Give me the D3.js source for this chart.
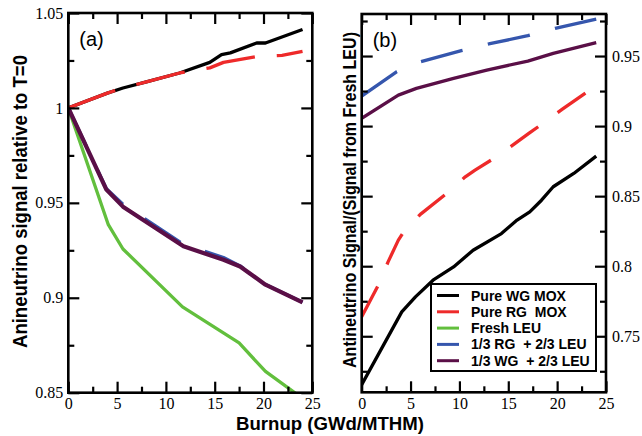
<!DOCTYPE html>
<html>
<head>
<meta charset="utf-8">
<script src="https://cdn.jsdelivr.net/npm/d3@7"></script>
<style>
  body { margin: 0; background: #fff; }
  svg text { white-space: pre; }
</style>
</head>
<body>
<svg id="chart" width="642" height="436"></svg>
<script>
// ---- data ----
var seriesNames = ["Pure WG MOX", "Pure RG  MOX", "Fresh LEU", "1/3 RG  + 2/3 LEU", "1/3 WG  + 2/3 LEU"];
var seriesColors = ["#000000", "#ee2a2a", "#62bf3d", "#3556ad", "#5a0f47"];

var xTicks = [0, 5, 10, 15, 20, 25];
var xMinor = [2.5, 7.5, 12.5, 17.5, 22.5];
var aTicks = [0.85, 0.9, 0.95, 1, 1.05];
var aMinor = [0.875, 0.925, 0.975, 1.025];
var bTicks = [0.75, 0.8, 0.85, 0.9, 0.95];
var bMinor = [0.725, 0.775, 0.825, 0.875, 0.925, 0.975];

// (a) signal relative to T=0
var aWgBurnup = [0, 4, 5.6, 8, 11.4, 14.5, 15.7, 16.6, 19.3, 20.2, 24];
var aWgSignal = [1, 1.0078, 1.0105, 1.0137, 1.0184, 1.024, 1.0281, 1.029, 1.0342, 1.0342, 1.0413];
var aRgBurnup = [0, 4, 5.6, 8, 11.4, 14.5, 15.9, 19.5, 21.9, 24];
var aRgSignal = [1, 1.0078, 1.0105, 1.0137, 1.0184, 1.0211, 1.024, 1.0272, 1.0277, 1.0298];
var aLeuBurnup = [0, 4.1, 5.6, 11.7, 17.5, 20.2, 24];
var aLeuSignal = [1, 0.9385, 0.9257, 0.8952, 0.8762, 0.8612, 0.847];
var aMixBurnup = [0, 3.9, 5.6, 11.8, 15.9, 17.6, 20.2, 24];
var aRgMixSignal = [1, 0.9575, 0.9492, 0.9282, 0.9212, 0.9168, 0.907, 0.8976];
var aWgMixSignal = [1, 0.957, 0.948, 0.9271, 0.920, 0.9165, 0.9069, 0.8976];

// (b) signal / signal from fresh LEU
var bWgBurnup = [0, 4.1, 5.5, 7.3, 9.4, 11.4, 14.3, 15.9, 17.2, 18.4, 19.6, 21.7, 24];
var bWgRatio = [0.7155, 0.7674, 0.7781, 0.790, 0.7995, 0.8114, 0.8233, 0.8329, 0.8388, 0.8471, 0.8567, 0.8662, 0.8786];
var bRgBurnup = [0, 1.7, 2.7, 3.75, 4.3, 6, 8.9, 10.6, 11.6, 13.8, 15.7, 17.1, 18.3, 20.5, 24];
var bRgRatio = [0.764, 0.7864, 0.8031, 0.8186, 0.8245, 0.837, 0.8531, 0.8638, 0.8686, 0.8781, 0.8876, 0.8948, 0.9007, 0.9119, 0.929];
var bRgMixBurnup = [0, 3.6, 6, 10.2, 13, 17, 19.8, 24];
var bRgMixRatio = [0.9214, 0.9388, 0.9459, 0.9538, 0.9586, 0.9645, 0.9698, 0.9764];
var bWgMixBurnup = [0, 3.75, 5.6, 9.4, 12.8, 17, 19.6, 24];
var bWgMixRatio = [0.9055, 0.9221, 0.9269, 0.9341, 0.940, 0.9464, 0.9519, 0.9595];

var svg = d3.select("#chart");
var serif = "'Liberation Serif', 'Times New Roman', serif";
var sans = "'Liberation Sans', Arial, sans-serif";

function zipXY(xs, ys) {
    return xs.map(function(x, i) { return [x, ys[i]]; });
}

function drawPanel(opts) {
    var g = svg.append("g").attr("transform", "translate(" + opts.left + "," + opts.top + ")");
    var x = d3.scaleLinear().domain([0, 25]).range([0, opts.width]);
    var y = d3.scaleLinear().domain(opts.yDomain).range([opts.height, 0]);

    g.append("clipPath").attr("id", opts.id + "-clip")
      .append("rect").attr("width", opts.width).attr("height", opts.height);

    var line = d3.line()
        .x(function(d) { return x(d[0]); })
        .y(function(d) { return y(d[1]); });

    var lines = g.append("g").attr("clip-path", "url(#" + opts.id + "-clip)");
    opts.series.forEach(function(s) {
        lines.append("path")
          .datum(zipXY(s.x, s.y))
          .attr("d", line)
          .attr("fill", "none")
          .attr("stroke", seriesColors[s.idx])
          .attr("stroke-width", s.width || 3.3)
          .attr("stroke-linejoin", "round")
          .attr("stroke-dasharray", s.dash || null);
    });

    // ticks on all four sides, pointing inward
    function ticks(axis, pos, values, size, labels, pad) {
        var a = axis.tickValues(values).tickSize(size).tickPadding(pad || 0)
            .tickFormat(labels ? function(d) { return String(d); } : "");
        var ag = g.append("g").attr("transform", pos).call(a)
            .attr("font-family", serif).attr("font-size", 16);
        ag.select(".domain").remove();
        ag.selectAll("line").attr("stroke", "#000").attr("stroke-width", 2.2);
        ag.selectAll("text").attr("fill", "#000")
          .style("font-family", serif).style("font-size", "16px");
        return ag;
    }
    ticks(d3.axisBottom(x), "translate(0," + opts.height + ")", xTicks, -11, true, 5);
    ticks(d3.axisBottom(x), "translate(0," + opts.height + ")", xMinor, -6, false);
    ticks(d3.axisTop(x), "translate(0,0)", xTicks, -11, false);
    ticks(d3.axisTop(x), "translate(0,0)", xMinor, -6, false);
    ticks(d3.axisLeft(y), "translate(0,0)", opts.yTicks, -11, opts.labelSide === "left", 5);
    ticks(d3.axisLeft(y), "translate(0,0)", opts.yMinor, -6, false);
    ticks(d3.axisRight(y), "translate(" + opts.width + ",0)", opts.yTicks, -11, opts.labelSide === "right", 6);
    ticks(d3.axisRight(y), "translate(" + opts.width + ",0)", opts.yMinor, -6, false);

    g.append("rect")
      .attr("width", opts.width).attr("height", opts.height)
      .attr("fill", "none").attr("stroke", "#000").attr("stroke-width", 2.6);

    g.append("text")
      .attr("x", 11).attr("y", 33)
      .attr("font-family", sans)
      .attr("font-size", 20)
      .text(opts.tag);

    return {g: g, x: x, y: y};
}

drawPanel({
    id: "pa", left: 68.3, top: 13, width: 244, height: 379.7,
    yDomain: [0.85, 1.05], yTicks: aTicks, yMinor: aMinor, labelSide: "left", tag: "(a)",
    series: [
        {idx: 0, x: aWgBurnup, y: aWgSignal},
        {idx: 1, x: aRgBurnup, y: aRgSignal, dash: "50,22"},
        {idx: 2, x: aLeuBurnup, y: aLeuSignal},
        {idx: 3, x: aMixBurnup, y: aRgMixSignal, dash: "43,26"},
        {idx: 4, x: aMixBurnup, y: aWgMixSignal, width: 4.2}
    ]
});

drawPanel({
    id: "pb", left: 361.7, top: 14, width: 244.3, height: 378.3,
    yDomain: [0.71, 0.98], yTicks: bTicks, yMinor: bMinor, labelSide: "right", tag: "(b)",
    series: [
        {idx: 0, x: bWgBurnup, y: bWgRatio},
        {idx: 1, x: bRgBurnup, y: bRgRatio, dash: "34,24"},
        {idx: 3, x: bRgMixBurnup, y: bRgMixRatio, dash: "43,26"},
        {idx: 4, x: bWgMixBurnup, y: bWgMixRatio}
    ]
});

// legend inside panel (b)
var legend = svg.append("g").attr("transform", "translate(431,284)");
legend.append("rect")
  .attr("width", 165).attr("height", 87)
  .attr("fill", "#fff").attr("stroke", "#000").attr("stroke-width", 2);
seriesNames.forEach(function(name, i) {
    var ly = 11.5 + i * 16.3;
    legend.append("line")
      .attr("x1", 6).attr("x2", 28).attr("y1", ly).attr("y2", ly)
      .attr("stroke", seriesColors[i]).attr("stroke-width", 3);
    legend.append("text")
      .attr("x", 40).attr("y", ly + 5)
      .attr("font-family", sans)
      .attr("font-weight", "bold")
      .attr("font-size", 14)
      .text(name);
});

// axis titles
svg.append("text")
  .attr("x", 330).attr("y", 430)
  .attr("text-anchor", "middle")
  .attr("font-family", sans).attr("font-weight", "bold").attr("font-size", 18)
  .attr("textLength", 188).attr("lengthAdjust", "spacingAndGlyphs")
  .text("Burnup (GWd/MTHM)");

svg.append("text")
  .attr("transform", "translate(26.5,201.5) rotate(-90)")
  .attr("text-anchor", "middle")
  .attr("font-family", sans).attr("font-weight", "bold").attr("font-size", 19.5)
  .attr("textLength", 293).attr("lengthAdjust", "spacingAndGlyphs")
  .text("Anineutrino signal relative to T=0");

svg.append("text")
  .attr("transform", "translate(356,200) rotate(-90)")
  .attr("text-anchor", "middle")
  .attr("font-family", sans).attr("font-weight", "bold").attr("font-size", 17.5)
  .attr("textLength", 336).attr("lengthAdjust", "spacingAndGlyphs")
  .text("Antineutrino Signal/(Signal from Fresh LEU)");
</script>
</body>
</html>
